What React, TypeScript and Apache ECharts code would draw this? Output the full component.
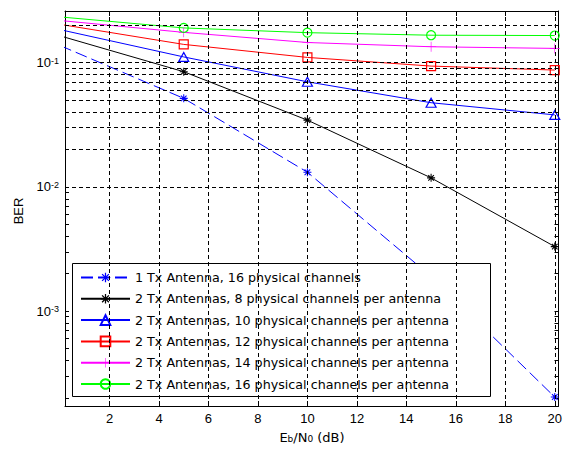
import React, { useEffect, useRef } from "react";
import * as echarts from "echarts";

// ---- data ----
const ebN0 = [0, 5, 10, 15, 20];
const seriesNames = [
  "1 Tx Antenna, 16 physical channels",
  "2 Tx Antennas, 8 physical channels per antenna",
  "2 Tx Antennas, 10 physical channels per antenna",
  "2 Tx Antennas, 12 physical channels per antenna",
  "2 Tx Antennas, 14 physical channels per antenna",
  "2 Tx Antennas, 16 physical channels per antenna",
];
const ber1Tx16 = [0.137, 0.0515, 0.0131, 0.0019, 0.000203];
const ber2Tx8 = [0.164, 0.0844, 0.0344, 0.0118, 0.0033];
const ber2Tx10 = [0.184, 0.111, 0.07, 0.0475, 0.0379];
const ber2Tx12 = [0.203, 0.14, 0.11, 0.0937, 0.087];
const ber2Tx14 = [0.218, 0.175, 0.145, 0.134, 0.13];
const ber2Tx16 = [0.233, 0.19, 0.174, 0.166, 0.165];
const xTicks = [2, 4, 6, 8, 10, 12, 14, 16, 18, 20];
const yDecades = [0.001, 0.01, 0.1];
const yGrid = [
  2e-4, 3e-4, 4e-4, 5e-4, 6e-4, 7e-4, 8e-4, 9e-4,
  1e-3, 2e-3, 3e-3, 4e-3, 5e-3, 6e-3, 7e-3, 8e-3, 9e-3,
  1e-2, 2e-2, 3e-2, 4e-2, 5e-2, 6e-2, 7e-2, 8e-2, 9e-2,
  1e-1, 2e-1,
];

const STAR =
  "path://M-1.3,-10L1.3,-10L1.3,10L-1.3,10Z M-10,-1.3L10,-1.3L10,1.3L-10,1.3Z M-6.1,-8L8,6.1L6.1,8L-8,-6.1Z M-8,6.1L6.1,-8L8,-6.1L-6.1,8Z";
const PLUS = "path://M-0.6,-10L0.6,-10L0.6,10L-0.6,10Z M-10,-0.6L10,-0.6L10,0.6L-10,0.6Z";

const seriesValues = [ber1Tx16, ber2Tx8, ber2Tx10, ber2Tx12, ber2Tx14, ber2Tx16];
const seriesColors = ["#0000ff", "#000000", "#0000ff", "#ff0000", "#ff00ff", "#00ff00"];
const seriesSymbols = [STAR, STAR, "triangle", "rect", PLUS, "circle"];
const seriesSymbolSizes: any[] = [8, 8, [10, 9], 9, 10, 9];
const seriesFilled = [true, true, false, false, true, false];
const seriesDash: any[] = [[12, 5], "solid", "solid", "solid", "solid", "solid"];

const TICK_FONT = "'Liberation Sans', Arial, sans-serif";
const TEXT_FONT = "'DejaVu Sans', sans-serif";

export default function App() {
  const ref = useRef<HTMLDivElement>(null);
  useEffect(() => {
    if (!ref.current) return;
    const chart = echarts.init(ref.current, undefined, { renderer: "svg" });

    const dataSeries = seriesNames.map((name, k) => ({
      name,
      type: "line",
      data: ebN0.map((x, i) =>
        i === 0 ? { value: [x, seriesValues[k][i]], symbol: "none" } : [x, seriesValues[k][i]]
      ),
      symbol: seriesSymbols[k],
      symbolSize: seriesSymbolSizes[k],
      showSymbol: true,
      clip: true,
      z: 3,
      lineStyle: { color: seriesColors[k], width: 1, type: seriesDash[k] },
      itemStyle: seriesFilled[k]
        ? { color: seriesColors[k], borderWidth: 0 }
        : { color: "rgba(0,0,0,0)", borderColor: seriesColors[k], borderWidth: 1.2 },
      emphasis: { disabled: true },
    }));

    const gridSeries = {
      name: "__grid",
      type: "line",
      data: [],
      silent: true,
      z: 1,
      markLine: {
        silent: true,
        symbol: ["none", "none"],
        label: { show: false },
        animation: false,
        lineStyle: { color: "#000", width: 1, type: [4, 3] },
        emphasis: { disabled: true },
        data: [
          ...xTicks.map((v) => ({ xAxis: v })),
          ...yGrid.map((v) => ({ yAxis: v })),
        ],
      },
    };

    const yLabelFormatter = (v: number) => {
      const e = Math.round(Math.log10(v));
      if (Math.abs(Math.log10(v) - e) > 1e-6) return "";
      return `{b|10}{s|${e}}`;
    };

    const option: any = {
      animation: false,
      backgroundColor: "#fff",
      grid: { left: 65, top: 11, right: 2, bottom: 44, containLabel: false },
      xAxis: [
        {
          type: "value",
          position: "bottom",
          min: 0.2,
          max: 20.15,
          axisLine: { show: true, lineStyle: { color: "#000", width: 1 } },
          axisTick: { show: true, inside: true, length: 5, customValues: xTicks, lineStyle: { color: "#000" } },
          axisLabel: {
            customValues: xTicks,
            color: "#000",
            fontFamily: TICK_FONT,
            fontSize: 13,
            margin: 6,
          },
          splitLine: { show: false },
        },
        {
          type: "value",
          position: "top",
          min: 0.2,
          max: 20.15,
          axisLine: { show: true, onZero: false, lineStyle: { color: "#000", width: 1 } },
          axisTick: { show: true, inside: true, length: 5, customValues: xTicks, lineStyle: { color: "#000" } },
          axisLabel: { show: false },
          splitLine: { show: false },
        },
      ],
      yAxis: [
        {
          type: "log",
          logBase: 10,
          position: "left",
          min: 1.72e-4,
          max: 0.26,
          axisLine: { show: true, onZero: false, lineStyle: { color: "#000", width: 1 } },
          axisTick: { show: true, inside: true, length: 4, customValues: yGrid, lineStyle: { color: "#000" } },
          axisLabel: {
            customValues: yDecades,
            formatter: yLabelFormatter,
            margin: 6,
            rich: {
              b: {
                fontFamily: TICK_FONT,
                fontSize: 13,
                lineHeight: 13,
                color: "#000",
                padding: [4, 0, 4, 0],
                verticalAlign: "middle",
              },
              s: {
                fontFamily: TICK_FONT,
                fontSize: 9,
                lineHeight: 9,
                color: "#000",
                verticalAlign: "top",
              },
            },
          },
          splitLine: { show: false },
          minorTick: { show: false },
        },
        {
          type: "log",
          logBase: 10,
          position: "right",
          min: 1.72e-4,
          max: 0.26,
          axisLine: { show: true, onZero: false, lineStyle: { color: "#000", width: 1 } },
          axisTick: { show: true, inside: true, length: 4, customValues: yGrid, lineStyle: { color: "#000" } },
          axisLabel: { show: false },
          splitLine: { show: false },
        },
      ],
      legend: {
        data: seriesNames,
        orient: "vertical",
        left: 80,
        top: 271,
        padding: 0,
        itemWidth: 49,
        itemHeight: 12,
        itemGap: 8.3,
        selectedMode: false,
        z: 5,
        textStyle: { fontFamily: TEXT_FONT, fontSize: 12.7, color: "#000" },
      },
      graphic: [
        {
          type: "rect",
          z: 4,
          silent: true,
          shape: { x: 72.5, y: 263.5, width: 418, height: 133 },
          style: { fill: "#fff", stroke: "#000", lineWidth: 1 },
        },
        {
          type: "text",
          x: 18,
          y: 211,
          rotation: Math.PI / 2,
          silent: true,
          style: {
            text: "BER",
            fontFamily: TICK_FONT,
            fontSize: 13,
            fill: "#000",
            align: "center",
            verticalAlign: "middle",
          },
        },
        {
          type: "text",
          x: 312,
          y: 437,
          silent: true,
          style: {
            text: "{n|E}{s|b}{n|/N}{s|0}{n| (dB)}",
            align: "center",
            verticalAlign: "middle",
            rich: {
              n: {
                fontFamily: TEXT_FONT,
                fontSize: 13,
                lineHeight: 13,
                fill: "#000",
                color: "#000",
                padding: [5, 0, 5, 0],
                verticalAlign: "middle",
              },
              s: {
                fontFamily: TEXT_FONT,
                fontSize: 9,
                lineHeight: 9,
                fill: "#000",
                color: "#000",
                verticalAlign: "bottom",
              },
            },
          },
        },
      ],
      series: [gridSeries, ...dataSeries],
    };

    chart.setOption(option);
    return () => chart.dispose();
  }, []);

  return (
    <div
      ref={ref}
      style={{ position: "fixed", left: 0, top: 0, width: 565, height: 450, background: "#fff" }}
    />
  );
}
